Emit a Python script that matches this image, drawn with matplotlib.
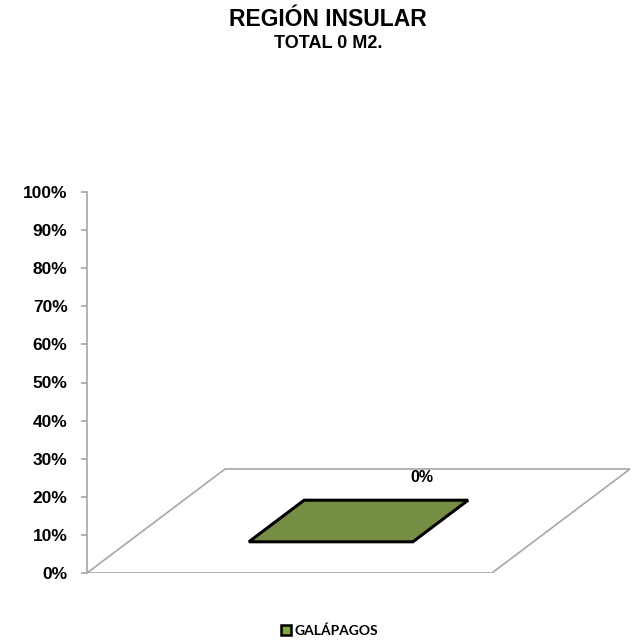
import matplotlib
matplotlib.use("Agg")
import matplotlib.pyplot as plt
from matplotlib.patches import Polygon
from matplotlib.lines import Line2D
from matplotlib.ticker import PercentFormatter

# chart data
title = "REGIÓN INSULAR"
subtitle = "TOTAL 0 M2."
categories = ["GALÁPAGOS"]
values = [0.0]
y_ticks = [0.0, 0.1, 0.2, 0.3, 0.4, 0.5, 0.6, 0.7, 0.8, 0.9, 1.0]

# 3d look: floor depth offset (in category units / axis units)
DX, DY = 0.341, 0.273
bar_width = 0.405
depth_front, depth_back = 0.3, 0.7
bar_color = "#758E44"
floor_color = "#a6a6a6"

fig = plt.figure(figsize=(6.37, 6.40), dpi=100)
ax = fig.add_axes([87 / 637, 1 - 573 / 640, 543 / 637, 381 / 640])
n = len(categories)
ax.set_xlim(0, n + DX)
ax.set_ylim(0, 1)

# floor of the 3d chart
floor = Polygon([(0, 0), (n, 0), (n + DX, DY), (DX, DY)], closed=True,
                facecolor="none", edgecolor=floor_color, lw=1.2, zorder=1)
ax.add_patch(floor)

for i, v in enumerate(values):
    x0 = i + 0.5 - bar_width / 2
    x1 = i + 0.5 + bar_width / 2
    fx, fy = depth_front * DX, depth_front * DY
    bx, by = depth_back * DX, depth_back * DY
    if v > 0:
        front = Polygon([(x0 + fx, fy), (x1 + fx, fy), (x1 + fx, v + fy), (x0 + fx, v + fy)],
                        facecolor=bar_color, edgecolor="black", lw=2, zorder=3)
        side = Polygon([(x1 + fx, fy), (x1 + bx, by), (x1 + bx, v + by), (x1 + fx, v + fy)],
                       facecolor=bar_color, edgecolor="black", lw=2, zorder=3)
        ax.add_patch(front)
        ax.add_patch(side)
    top = Polygon([(x0 + fx, v + fy), (x1 + fx, v + fy), (x1 + bx, v + by), (x0 + bx, v + by)],
                  facecolor=bar_color, edgecolor="black", lw=2.2, joinstyle="miter", zorder=4)
    ax.add_patch(top)
    ax.annotate("{:.0%}".format(v), xy=(i + 0.5 + DX, v + DY), xytext=(-4, -6),
                textcoords="offset points", ha="center", va="center",
                fontsize=11.5, fontweight="bold", family="Liberation Sans")

# axis styling
for s in ["top", "right", "bottom"]:
    ax.spines[s].set_visible(False)
ax.spines["left"].set_color(floor_color)
ax.spines["left"].set_linewidth(1.2)
ax.set_yticks(y_ticks)
ax.yaxis.set_major_formatter(PercentFormatter(1.0, decimals=0))
ax.tick_params(axis="y", length=4, width=1.2, color=floor_color, pad=10)
ax.set_xticks([])
for lbl in ax.get_yticklabels():
    lbl.set_fontfamily("Liberation Sans")
    lbl.set_fontweight("bold")
    lbl.set_fontsize(12.5)

# titles
fig.text(328 / 637, 1 - 20 / 640, title, ha="center", va="center",
         fontsize=16.5, fontweight="bold", family="Liberation Sans")
fig.text(328 / 637, 1 - 43 / 640, subtitle, ha="center", va="center",
         fontsize=13, fontweight="bold", family="Liberation Sans")

# legend
handles = [Line2D([], [], ls="none", marker="s", markersize=7, markerfacecolor="#7FA843",
                  markeredgecolor="black", markeredgewidth=1.8) for _ in categories]
fig.legend(handles, categories, loc="center", bbox_to_anchor=(330 / 637, 1 - 631 / 640),
           frameon=False, handlelength=0.6, handletextpad=0.3,
           prop={"family": "Lato", "weight": "bold", "size": 10})

fig.savefig("out.png", dpi=100)
